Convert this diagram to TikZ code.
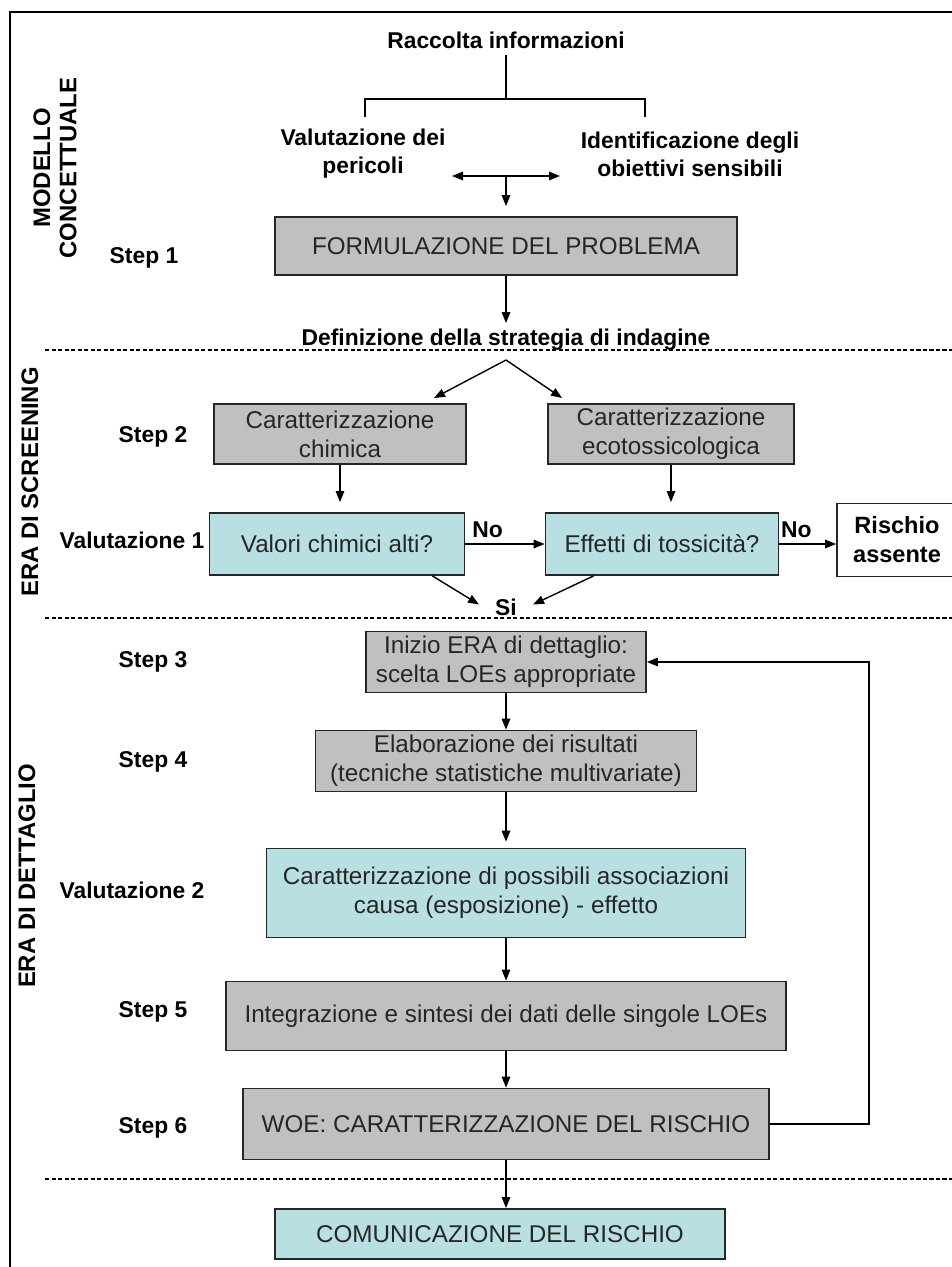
\documentclass[tikz,border=0pt]{standalone}
\usepackage{fontspec}
\setmainfont{Liberation Sans}
\usetikzlibrary{arrows.meta}
\definecolor{boxgray}{RGB}{192,192,192}
\definecolor{boxcyan}{RGB}{184,224,227}

\begin{document}
\begin{tikzpicture}[x=0.02cm,y=-0.02cm,
  grigio/.style={draw=black!85,line width=1pt,fill=boxgray,align=center,inner sep=0pt,
    text=black!85,font=\fontsize{13.8}{16.5}\selectfont},
  azzurro/.style={grigio,fill=boxcyan},
  etic/.style={font=\bfseries\fontsize{13}{15.9}\selectfont,align=center},
  fase/.style={font=\bfseries\fontsize{13.6}{15}\selectfont,rotate=90,align=center},
  freccia/.style={-{Triangle[length=2.2mm,width=1.7mm]},line width=0.8pt},
  separa/.style={line width=0.8pt,dash pattern=on 2.5pt off 1.2pt}]

\useasboundingbox (0,0) rectangle (952,1267);
% cornice
\draw[line width=1.1pt] (952,12) -- (10,12) -- (10,1267);
\foreach \y in {350,618,1179} {
\draw[separa] (45,\y) -- (952,\y);
}

% fasi
\node[fase] (modello) at (55,168) {MODELLO\\CONCETTUALE};
\node[fase] (screening) at (30,482) {ERA DI SCREENING};
\node[fase] (dettaglio) at (27,876) {ERA DI DETTAGLIO};

% step
\node[etic] (step1) at (144,258) {Step 1};
\foreach \n/\y in {2/437,3/662,4/762,5/1012,6/1128} {
\node[etic] (step\n) at (153,\y) {Step \n};
}
\node[etic] (val1) at (132,540) {Valutazione 1};
\node[etic] (val2) at (132,890) {Valutazione 2};

% modello concettuale
\node[etic] (raccolta) at (506,40) {Raccolta informazioni};
\node[etic] (pericoli) at (363,154) {Valutazione dei\\pericoli};
\node[etic] (obiettivi) at (690,154) {Identificazione degli\\obiettivi sensibili};
\node[grigio,minimum width=9.23cm,minimum height=1.16cm] (formulazione) at (506,246) {FORMULAZIONE DEL PROBLEMA};
\node[etic] (definizione) at (506,340) {Definizione della strategia di indagine};

\coordinate (ramo) at (506,99);
\coordinate (rsx) at (365,117);
\coordinate (rdx) at (645,117);
\draw[line width=0.8pt] (raccolta) -- (ramo);
\draw[line width=0.8pt] (rsx) -- (rsx |- ramo) -- (rdx |- ramo) -- (rdx);
\coordinate (centro) at (506,176);
\coordinate (fsx) at (452,176);
\coordinate (fdx) at (560,176);
\draw[{Triangle[length=2.2mm,width=1.7mm]}-{Triangle[length=2.2mm,width=1.7mm]},line width=0.8pt] (fsx) -- (fdx);
\draw[freccia,shorten >=0.2cm] (centro) -- (formulazione.north);
\draw[freccia] (formulazione) -- (definizione);

% screening
\node[grigio,minimum width=5.04cm,minimum height=1.2cm] (chimica) at (340,434) {Caratterizzazione\\chimica};
\node[grigio,minimum width=4.92cm,minimum height=1.2cm] (ecotox) at (671,434) {Caratterizzazione\\ecotossicologica};
\node[azzurro,minimum width=5.1cm,minimum height=1.24cm] (valori) at (337,544) {Valori chimici alti?};
\node[azzurro,minimum width=4.66cm,minimum height=1.24cm] (effetti) at (662,544) {Effetti di tossicità?};
\node[grigio,fill=white,minimum width=2.4cm,minimum height=1.46cm,font=\bfseries\fontsize{13.4}{16.5}\selectfont,text=black] (assente) at (897,540) {Rischio\\assente};
\node[etic] (si) at (506,607) {Si};

\coordinate (bivio) at (506,360);
\coordinate (bsx) at (434,398);
\coordinate (bdx) at (562,398);
\draw[freccia] (bivio) -- (bsx);
\draw[freccia] (bivio) -- (bdx);
\draw[freccia,shorten >=0.2cm] (chimica.south) -- (chimica.south |- valori.north);
\draw[freccia,shorten >=0.2cm] (ecotox.south) -- (ecotox.south |- effetti.north);
\draw[freccia] (valori) -- node[etic,above,pos=0.28] {No} (effetti);
\draw[freccia] (effetti.east) -- node[etic,above,pos=0.3] {No} (effetti.east -| assente.west);
\draw[freccia] ([xshift=-0.66cm]valori.south east) -- ([xshift=-0.2cm,yshift=0.05cm]si.west);
\draw[freccia] ([xshift=0.98cm]effetti.south west) -- ([xshift=0.2cm,yshift=0.05cm]si.east);

% dettaglio
\node[grigio,minimum width=5.6cm,minimum height=1.22cm] (inizio) at (506,662) {Inizio ERA di dettaglio:\\scelta LOEs appropriate};
\node[grigio,minimum width=7.62cm,minimum height=1.22cm] (elaborazione) at (506,761) {Elaborazione dei risultati\\(tecniche statistiche multivariate)};
\node[azzurro,minimum width=9.58cm,minimum height=1.78cm] (associazioni) at (506,893) {Caratterizzazione di possibili associazioni\\causa (esposizione) - effetto};
\node[grigio,minimum width=11.2cm,minimum height=1.38cm] (integrazione) at (506,1016) {Integrazione e sintesi dei dati delle singole LOEs};
\node[grigio,minimum width=10.52cm,minimum height=1.42cm] (woe) at (506,1124) {WOE: CARATTERIZZAZIONE DEL RISCHIO};
\node[azzurro,minimum width=9.0cm,minimum height=1.0cm] (comunicazione) at (500,1234) {COMUNICAZIONE DEL RISCHIO};

\draw[freccia] (inizio) -- (elaborazione);
\draw[freccia,shorten >=0.12cm] (elaborazione) -- (associazioni);
\draw[freccia] (associazioni) -- (integrazione);
\draw[freccia] (integrazione) -- (woe);
\draw[freccia] (woe.south) -- (woe.south |- comunicazione.north);
\draw[freccia] (woe.east) -- ++(99,0) |- (inizio.east);
\end{tikzpicture}
\end{document}
